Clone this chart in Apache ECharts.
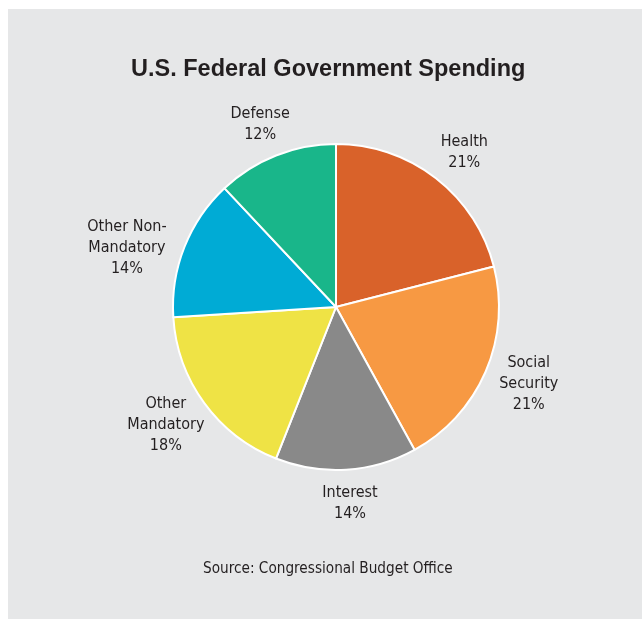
<!DOCTYPE html>
<html>
<head>
<meta charset="utf-8">
<script src="https://cdn.jsdelivr.net/npm/echarts@6/dist/echarts.min.js"></script>
<style>
  html, body { margin: 0; padding: 0; background: #ffffff; }
  #panel { position: absolute; left: 8px; top: 9px; width: 634px; height: 610px; background: #e6e7e8; }
  #chart { width: 634px; height: 610px; }
</style>
</head>
<body>
<div id="panel"><div id="chart"></div></div>
<script>
// Spending categories and their share of the federal budget (percent)
const categories = ['Health', 'Social\nSecurity', 'Interest', 'Other\nMandatory', 'Other Non-\nMandatory', 'Defense'];
const shares = [21, 21, 14, 18, 14, 12];
const colors = ['#d9622a', '#f79943', '#898989', '#efe345', '#00abd5', '#19b68a'];

const titleText = 'U.S. Federal Government Spending';
const sourceText = 'Source: Congressional Budget Office';

// small hand nudges [dx, dy] so each label sits nicely beside its slice
const labelNudge = [[7, 2], [5, -4], [2, 5], [3, -8], [-12, 19], [-3, 1]];

const labelFont = '"Liberation Sans Narrow", "DejaVu Sans Condensed", sans-serif';

const chart = echarts.init(document.getElementById('chart'));

const cx = 328, cy = 298, radius = 163, labelGap = 6;
const total = shares.reduce((a, b) => a + b, 0);

// mid angle of each slice, measured clockwise from 12 o'clock
const midAngles = [];
let acc = 0;
shares.forEach(v => {
  midAngles.push((acc + v / 2) / total * Math.PI * 2);
  acc += v;
});

chart.setOption({
  animation: false,
  title: [
    {
      text: titleText,
      left: 118,
      top: 44,
      textStyle: { fontFamily: '"Liberation Sans", Arial, sans-serif', fontWeight: 'bold', fontSize: 23.5, color: '#231f20' }
    },
    {
      text: sourceText,
      left: 190,
      top: 548,
      textStyle: { fontFamily: labelFont, fontWeight: 'normal', fontSize: 15.2, color: '#231f20' }
    }
  ],
  series: [{
    type: 'pie',
    center: [cx, cy],
    radius: radius,
    startAngle: 90,
    clockwise: true,
    data: categories.map((name, i) => ({ name: name, value: shares[i], itemStyle: { color: colors[i] } })),
    itemStyle: { borderColor: '#ffffff', borderWidth: 2 },
    label: {
      show: true,
      position: 'outside',
      formatter: p => p.name + '\n' + p.value + '%',
      fontFamily: labelFont,
      fontSize: 16,
      lineHeight: 21,
      color: '#231f20',
      align: 'center'
    },
    labelLine: { show: false },
    emphasis: { disabled: true },
    labelLayout: function (params) {
      const i = params.dataIndex;
      const a = midAngles[i];
      const sx = Math.sin(a), sy = -Math.cos(a);
      const w = params.labelRect.width, h = params.labelRect.height;
      const d = radius + labelGap + Math.abs(sx) * w / 2 * 0.85 + Math.abs(sy) * h / 2;
      return {
        x: cx + sx * d + labelNudge[i][0],
        y: cy + sy * d + labelNudge[i][1],
        align: 'center',
        verticalAlign: 'middle'
      };
    }
  }]
});
</script>
</body>
</html>
